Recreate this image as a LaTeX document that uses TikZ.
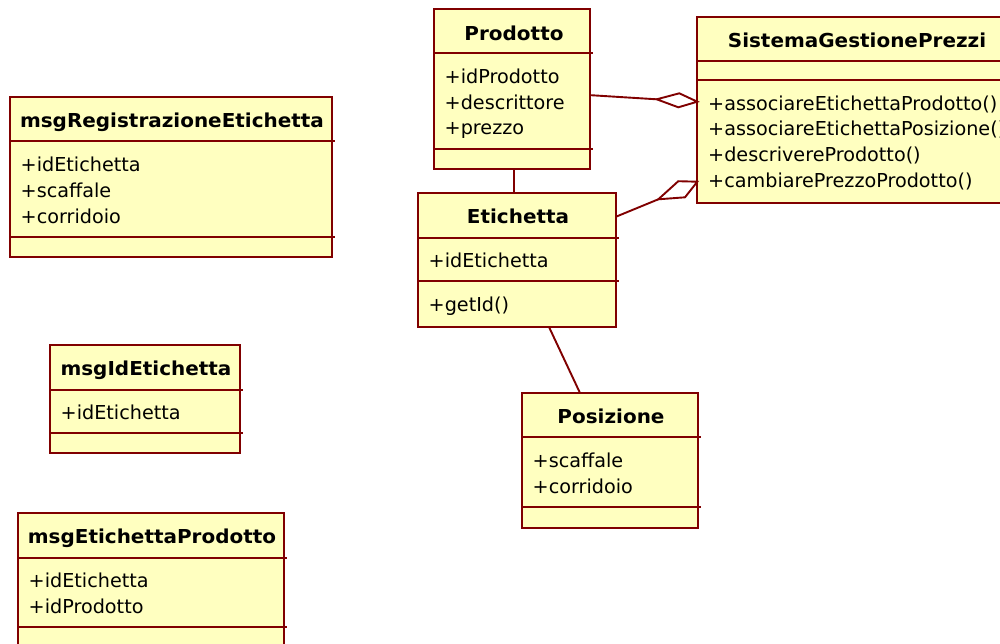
\documentclass[tikz,border=0pt]{standalone}
\usepackage{fontspec}
\setmainfont{DejaVu Sans}[BoldFeatures={FakeStretch=1.04}]
\usetikzlibrary{calc}
\definecolor{bord}{RGB}{128,0,0}
\definecolor{cfill}{RGB}{255,255,192}
\begin{document}
\begin{tikzpicture}[x=1pt,y=-1pt,
  cls/.style={draw=bord, fill=cfill, line width=2.2pt, anchor=north west, inner sep=0pt, outer sep=0pt},
  divider/.style={draw=bord, line width=1.8pt},
  assoc/.style={draw=bord, line width=1.9pt, line join=miter},
  txt/.style={font=\fontsize{19.2}{23}\selectfont, anchor=base west, inner sep=0pt},
  ttl/.style={font=\fontsize{19.2}{23}\selectfont\bfseries, anchor=base, inner sep=0pt}]
\useasboundingbox (0,0) rectangle (1000,643);
\clip (0,0) rectangle (1000,643);
\fill[white] (0,0) rectangle (1000,643);

% ---------- msgRegistrazioneEtichetta
\node[cls, minimum width=322pt, minimum height=159.4pt] (mre) at (10,97.3) {};
\draw[divider] (10,141.3) -- (335,141.3);
\draw[divider] (10,236.7) -- (335,236.7);
\node[ttl] (mre-t) at (172,127.5) {msgRegistrazioneEtichetta};
\node[txt] (mre-a1) at (20.5,171.7) {+idEtichetta};
\node[txt] (mre-a2) at (20.5,197.4) {+scaffale};
\node[txt] (mre-a3) at (20.5,223.1) {+corridoio};

% ---------- msgIdEtichetta
\node[cls, minimum width=190pt, minimum height=108.3pt] (mid) at (50,345) {};
\draw[divider] (50,390) -- (243,390);
\draw[divider] (50,433.3) -- (243,433.3);
\node[ttl] (mid-t) at (146,375) {msgIdEtichetta};
\node[txt] (mid-a1) at (60.5,419.3) {+idEtichetta};

% ---------- msgEtichettaProdotto
\node[cls, minimum width=265.7pt, minimum height=170pt] (mep) at (18.3,513.3) {};
\draw[divider] (18.3,557.7) -- (287,557.7);
\draw[divider] (18.3,626.7) -- (287,626.7);
\node[ttl] (mep-t) at (152,543.3) {msgEtichettaProdotto};
\node[txt] (mep-a1) at (28.5,587.3) {+idEtichetta};
\node[txt] (mep-a2) at (28.5,613) {+idProdotto};

% ---------- Prodotto
\node[cls, minimum width=156pt, minimum height=159.7pt] (prod) at (434,9.3) {};
\draw[divider] (434,52.7) -- (593,52.7);
\draw[divider] (434,149.3) -- (593,149.3);
\node[ttl] (prod-t) at (514,40.7) {Prodotto};
\node[txt] (prod-a1) at (444.5,83.5) {+idProdotto};
\node[txt] (prod-a2) at (444.5,109.2) {+descrittore};
\node[txt] (prod-a3) at (444.5,134.9) {+prezzo};

% ---------- SistemaGestionePrezzi
\node[cls, minimum width=318.7pt, minimum height=185.4pt] (sgp) at (697.3,17.3) {};
\draw[divider] (697.3,61.3) -- (1019,61.3);
\draw[divider] (697.3,80) -- (1019,80);
\node[ttl] (sgp-t) at (857,47.7) {SistemaGestionePrezzi};
\node[txt] (sgp-o1) at (708,110) {+associareEtichettaProdotto()};
\node[txt] (sgp-o2) at (708,135.7) {+associareEtichettaPosizione()};
\node[txt] (sgp-o3) at (708,161.4) {+descrivereProdotto()};
\node[txt] (sgp-o4) at (708,187.1) {+cambiarePrezzoProdotto()};

% ---------- Etichetta
\node[cls, minimum width=197.7pt, minimum height=134pt] (eti) at (418.3,193.3) {};
\draw[divider] (418.3,237.7) -- (619,237.7);
\draw[divider] (418.3,281) -- (619,281);
\node[ttl] (eti-t) at (518,223.3) {Etichetta};
\node[txt] (eti-a1) at (428.5,267.7) {+idEtichetta};
\node[txt] (eti-o1) at (428.5,311) {+getId()};

% ---------- Posizione
\node[cls, minimum width=176.3pt, minimum height=134.4pt] (pos) at (522,393.3) {};
\draw[divider] (522,436.7) -- (701,436.7);
\draw[divider] (522,506.7) -- (701,506.7);
\node[ttl] (pos-t) at (611,423.3) {Posizione};
\node[txt] (pos-a1) at (532.5,467.3) {+scaffale};
\node[txt] (pos-a2) at (532.5,493.3) {+corridoio};

% ---------- connectors
% Prodotto -- Etichetta
\draw[assoc] ([xshift=2pt]prod.south) -- ([xshift=2pt]prod.south |- eti.north);
% Etichetta -- Posizione
\draw[assoc] ([xshift=32pt]eti.south) -- ([xshift=-30pt]pos.north);
% Prodotto -- SistemaGestionePrezzi (aggregation)
\coordinate (d1tip) at ([yshift=8.3pt]sgp.west);
\coordinate (d1tail) at ($(d1tip)+(-40.6,-2.4)$);
\coordinate (d1a) at ($(d1tip)+(-18,-8.4)$);
\coordinate (d1b) at ($(d1tip)+(-19,5.6)$);
\draw[assoc] ([yshift=-6pt]prod.east) -- (d1tail);
\draw[assoc] (d1tail) -- (d1a) -- (d1tip) -- (d1b) -- cycle;
% Etichetta -- SistemaGestionePrezzi (aggregation)
\coordinate (d2tip) at ([yshift=-71.7pt]sgp.west);
\coordinate (d2tail) at ($(d2tip)+(-39,17.6)$);
\coordinate (d2a) at ($(d2tip)+(-19,-0.5)$);
\coordinate (d2b) at ($(d2tip)+(-12.3,15.6)$);
\draw[assoc] ([yshift=43.6pt]eti.east) -- (d2tail);
\draw[assoc] (d2tail) -- (d2a) -- (d2tip) -- (d2b) -- cycle;
\end{tikzpicture}
\end{document}
